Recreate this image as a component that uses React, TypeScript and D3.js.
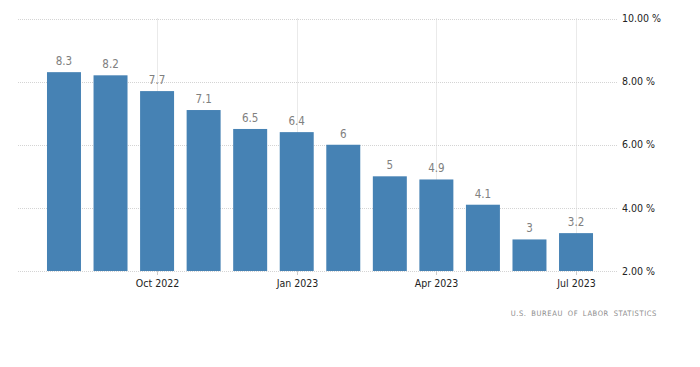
import React from 'react';
import {scaleBand, scaleLinear} from 'd3';

const months = [
  'Aug 2022', 'Sep 2022', 'Oct 2022', 'Nov 2022', 'Dec 2022', 'Jan 2023',
  'Feb 2023', 'Mar 2023', 'Apr 2023', 'May 2023', 'Jun 2023', 'Jul 2023',
];
const inflation = [8.3, 8.2, 7.7, 7.1, 6.5, 6.4, 6, 5, 4.9, 4.1, 3, 3.2];
const xTickLabels = ['Oct 2022', 'Jan 2023', 'Apr 2023', 'Jul 2023'];
const yTicks = [2, 4, 6, 8, 10];
const source = 'U.S. BUREAU OF LABOR STATISTICS';

const width = 700;
const height = 367;
const gridLeft = 18;
const gridRight = 618;

const font = "'DejaVu Sans Condensed', 'DejaVu Sans', Verdana, sans-serif";

export default function App() {
  const x = scaleBand<string>()
    .domain(months)
    .range([40.7, 599.3])
    .paddingInner(0.27)
    .paddingOuter(0.135);

  const y = scaleLinear().domain([2, 10]).range([271, 18.5]);

  const center = (m: string) => (x(m) ?? 0) + x.bandwidth() / 2;

  return (
    <svg
      width={width}
      height={height}
      style={{position: 'absolute', left: 0, top: 0, background: '#fff'}}
    >
      {yTicks.map((t) => (
        <g key={t}>
          <line
            x1={gridLeft}
            x2={gridRight}
            y1={Math.round(y(t)) + 0.5}
            y2={Math.round(y(t)) + 0.5}
            stroke="#d4d4d4"
            strokeDasharray="1,1"
          />
          <text
            x={622}
            y={y(t)}
            dy="0.35em"
            fontFamily={font}
            fontSize={10.5}
            fill="#222"
          >{`${t.toFixed(2)} %`}</text>
        </g>
      ))}
      {xTickLabels.map((m) => (
        <g key={m} transform={`translate(${Math.round(center(m)) + 0.5},0)`}>
          <line y1={y(10)} y2={y(2)} stroke="#d4d4d4" strokeDasharray="1,1" />
          <line y1={y(2)} y2={y(2) + 4} stroke="#ccc" />
          <text
            y={287}
            textAnchor="middle"
            fontFamily={font}
            fontSize={10.5}
            fill="#222"
          >{m}</text>
        </g>
      ))}
      {months.map((m, i) => (
        <g key={m}>
          <rect
            x={x(m)}
            y={y(inflation[i])}
            width={x.bandwidth()}
            height={y(2) - y(inflation[i])}
            fill="#4682b4"
          />
          <text
            x={center(m)}
            y={y(inflation[i]) - 7}
            textAnchor="middle"
            fontFamily={font}
            fontSize={11.5}
            fill="#808080"
          >{inflation[i]}</text>
        </g>
      ))}
      <text
        x={657}
        y={316}
        textAnchor="end"
        fontFamily={font}
        fontSize={7.5}
        letterSpacing={0.6}
        wordSpacing={2}
        fill="#8c8c8c"
      >{source}</text>
    </svg>
  );
}
